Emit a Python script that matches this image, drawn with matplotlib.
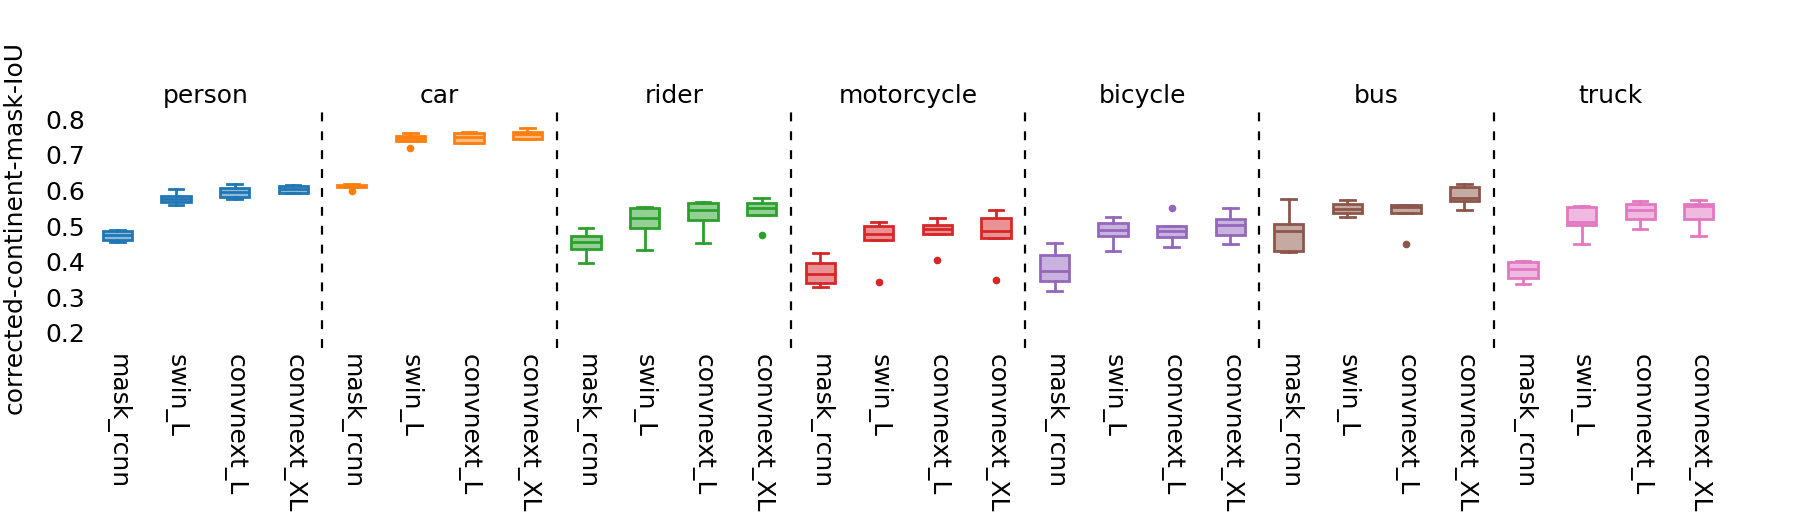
import matplotlib
matplotlib.use("Agg")
import matplotlib.pyplot as plt

categories = ["person", "car", "rider", "motorcycle", "bicycle", "bus", "truck"]
models = ["mask_rcnn", "swin_L", "convnext_L", "convnext_XL"]
colors = ["tab:blue", "tab:orange", "tab:green", "tab:red",
          "tab:purple", "tab:brown", "tab:pink"]

# box stats, one row per category, columns follow models
whisLow = [
    [0.455, 0.558, 0.576, 0.593],
    [0.609, 0.740, 0.734, 0.745],
    [0.395, 0.434, 0.451, 0.532],
    [0.329, 0.461, 0.477, 0.466],
    [0.318, 0.431, 0.442, 0.450],
    [0.427, 0.526, 0.537, 0.546],
    [0.338, 0.450, 0.492, 0.471],
]
q1 = [
    [0.461, 0.567, 0.582, 0.594],
    [0.609, 0.740, 0.735, 0.746],
    [0.435, 0.494, 0.516, 0.532],
    [0.341, 0.461, 0.477, 0.466],
    [0.346, 0.472, 0.470, 0.474],
    [0.429, 0.538, 0.537, 0.570],
    [0.353, 0.502, 0.520, 0.520],
]
med = [
    [0.475, 0.576, 0.595, 0.604],
    [0.613, 0.748, 0.751, 0.758],
    [0.455, 0.524, 0.544, 0.551],
    [0.365, 0.477, 0.491, 0.485],
    [0.374, 0.489, 0.485, 0.502],
    [0.485, 0.549, 0.553, 0.578],
    [0.378, 0.511, 0.546, 0.556],
]
q3 = [
    [0.487, 0.586, 0.608, 0.613],
    [0.616, 0.754, 0.763, 0.765],
    [0.473, 0.552, 0.564, 0.566],
    [0.396, 0.500, 0.502, 0.522],
    [0.418, 0.510, 0.500, 0.521],
    [0.507, 0.562, 0.560, 0.611],
    [0.398, 0.555, 0.563, 0.562],
]
whisHigh = [
    [0.490, 0.604, 0.619, 0.615],
    [0.619, 0.762, 0.765, 0.777],
    [0.494, 0.554, 0.567, 0.579],
    [0.425, 0.511, 0.523, 0.544],
    [0.452, 0.525, 0.500, 0.551],
    [0.576, 0.572, 0.560, 0.619],
    [0.402, 0.556, 0.571, 0.572],
]
fliers = [
    [[], [], [], []],
    [[0.598], [0.721], [], []],
    [[], [], [], [0.475]],
    [[], [0.343], [0.404], [0.348]],
    [[], [], [0.551], []],
    [[], [], [0.450], []],
    [[], [], [], []],
]

fig = plt.figure(figsize=(18.08, 5.25), dpi=100)
ax = fig.add_axes([88.2 / 1808, 177 / 525, 1639.8 / 1808, 241 / 525])

fs = 18
nModels = len(models)
tickPos = []
tickLab = []

for c, cat in enumerate(categories):
    stats = []
    pos = []
    for m in range(nModels):
        stats.append({
            "whislo": whisLow[c][m], "q1": q1[c][m], "med": med[c][m],
            "q3": q3[c][m], "whishi": whisHigh[c][m], "fliers": fliers[c][m],
        })
        pos.append(c * nModels + m)
    col = colors[c]
    bp = ax.bxp(stats, positions=pos, widths=0.5, patch_artist=True,
                showfliers=True, manage_ticks=False)
    for b in bp["boxes"]:
        b.set_facecolor(matplotlib.colors.to_rgba(col, 0.5))
        b.set_edgecolor(col)
        b.set_linewidth(2)
    for ln in bp["whiskers"] + bp["caps"] + bp["medians"]:
        ln.set_color(col)
        ln.set_linewidth(2)
    for f in bp["fliers"]:
        f.set_marker("o")
        f.set_markersize(4.5)
        f.set_markerfacecolor(col)
        f.set_markeredgecolor(col)

    tickPos += pos
    tickLab += models

    ax.text(c * nModels + (nModels - 1) / 2, 1.017, cat, fontsize=fs,
            ha="center", va="baseline",
            transform=ax.get_xaxis_transform())
    if c > 0:
        ax.axvline(c * nModels - 0.5, color="black", lw=1.6,
                   linestyle=(0, (4, 4.5)))

ax.set_xlim(-0.5, len(categories) * nModels - 0.5)
ax.set_ylim(0.157, 0.835)
ax.set_yticks([0.2, 0.3, 0.4, 0.5, 0.6, 0.7, 0.8])
ax.set_yticklabels(["0.2", "0.3", "0.4", "0.5", "0.6", "0.7", "0.8"])
ax.set_xticks(tickPos)
ax.set_xticklabels(tickLab, rotation=270)
ax.tick_params(axis="both", length=0, labelsize=fs)
ax.tick_params(axis="y", pad=2)
ax.tick_params(axis="x", pad=4)
for s in ax.spines.values():
    s.set_visible(False)

ax.set_ylabel("corrected-continent-mask-IoU", fontsize=fs)
ax.yaxis.set_label_coords(-0.0373, 0.5)

fig.savefig("out.png", dpi=100)
